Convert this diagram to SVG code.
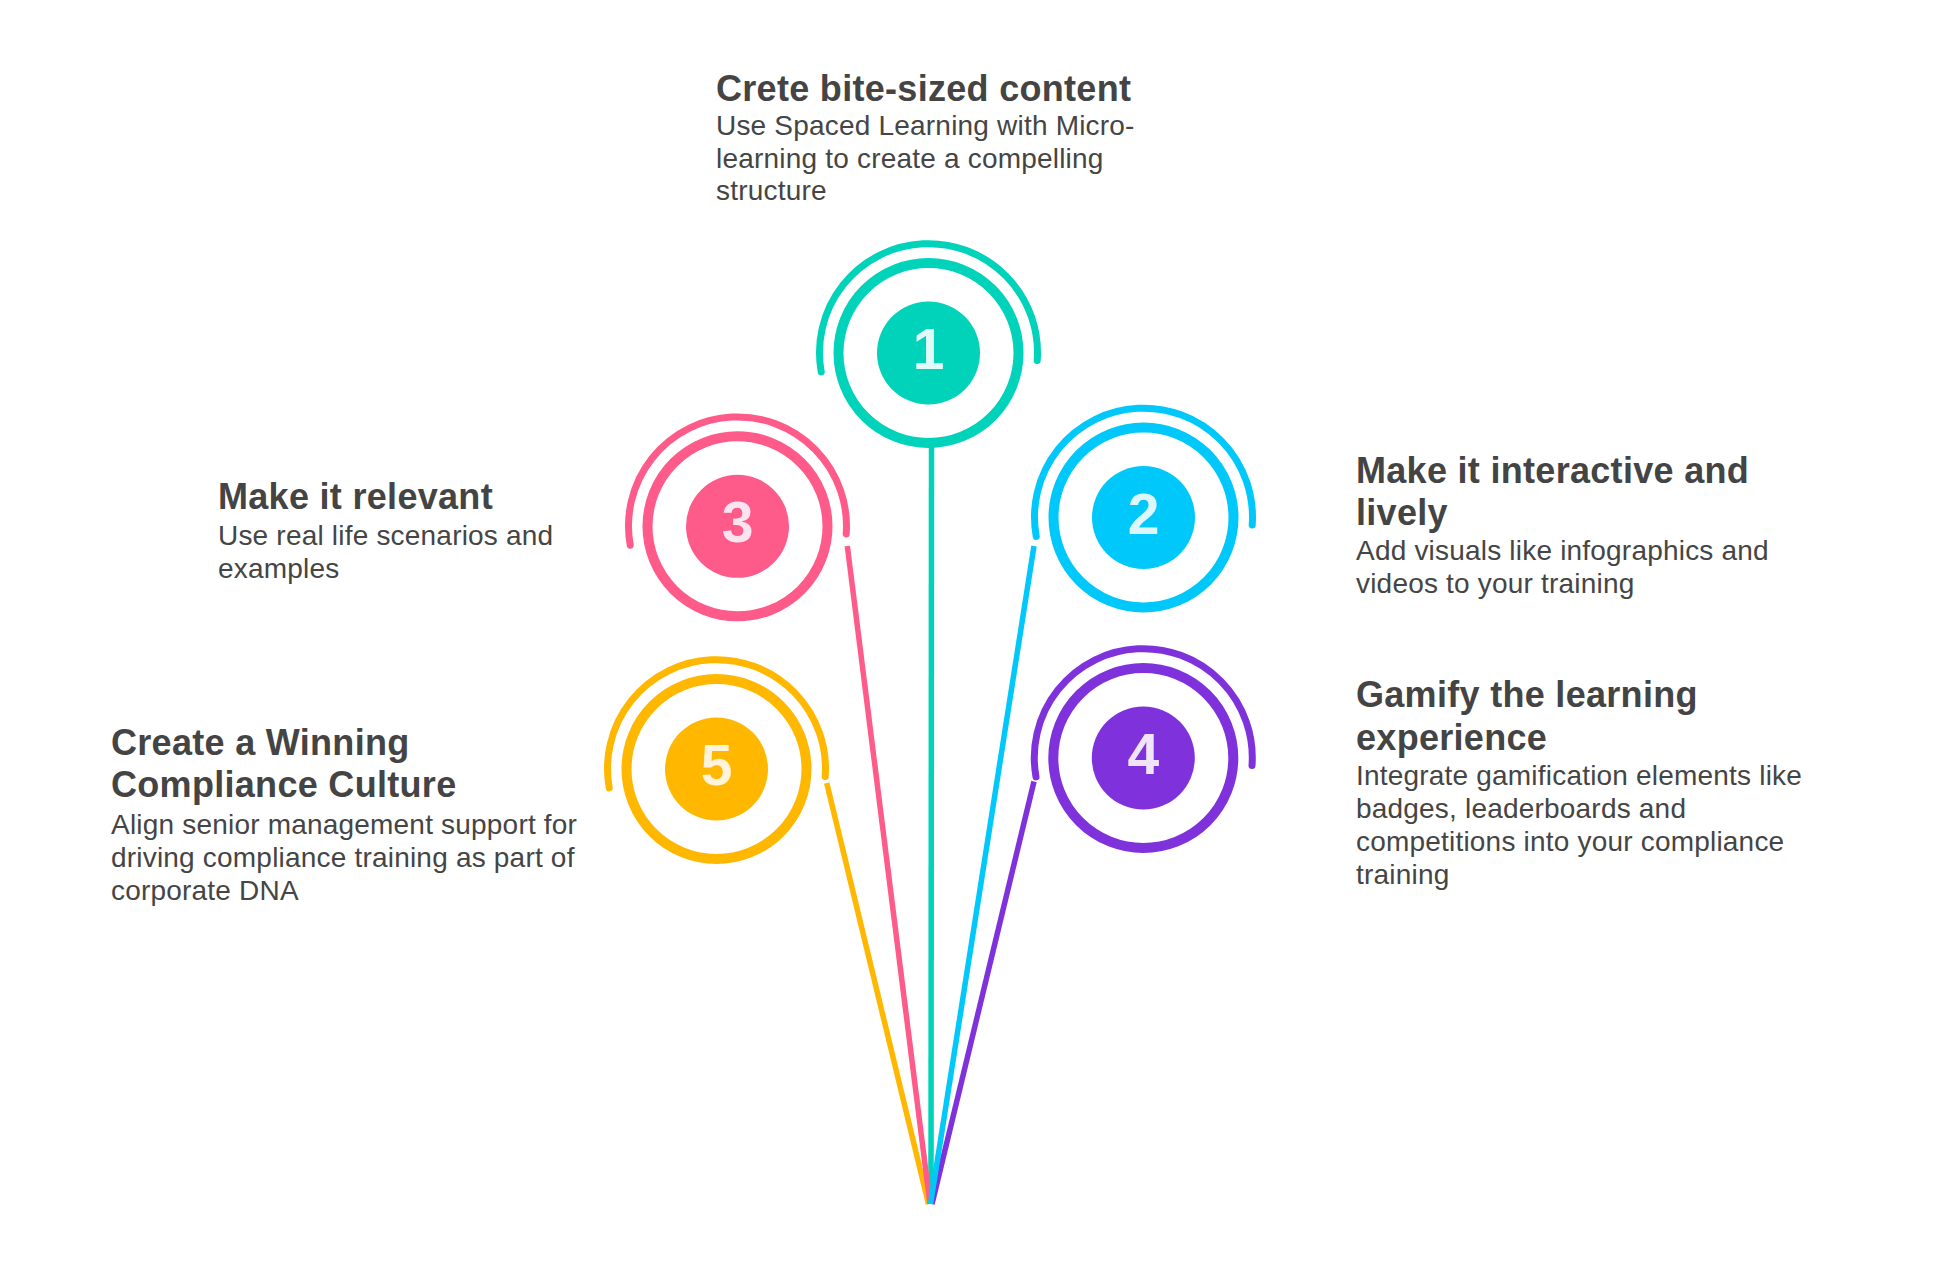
<svg xmlns="http://www.w3.org/2000/svg" width="1943" height="1278" viewBox="0 0 1943 1278">
<style>
.bg{fill:#ffffff}
.arc{fill:none;stroke-width:7;stroke-linecap:round}
.ring{fill:none;stroke-width:10}
.num{font-family:"Liberation Sans",Arial,sans-serif;font-weight:bold;font-size:57px;text-anchor:middle}
.title{font-family:"Liberation Sans",Arial,sans-serif;font-weight:bold;font-size:36px;fill:#444444;letter-spacing:0.3px}
.body{font-family:"Liberation Sans",Arial,sans-serif;font-size:28px;fill:#454545;letter-spacing:0.2px}
.conn line{stroke-width:5.5;fill:none}
.teal{stroke:#00D3B9}
.pink{stroke:#FF5B8A}
.blue{stroke:#00C8FA}
.orange{stroke:#FFB700}
.purple{stroke:#7F32DC}
</style>
<rect class="bg" x="0" y="0" width="1943" height="1278"/>
<g id="connectors" class="conn">
<line class="teal" x1="931.5" y1="446" x2="931" y2="1203"/>
<line class="orange" x1="826.7" y1="783" x2="928.5" y2="1204"/>
<line class="pink" x1="847.3" y1="546" x2="930" y2="1204"/>
<line class="purple" x1="1034" y1="781.5" x2="932" y2="1204"/>
<line class="blue" x1="1034" y1="546" x2="930.5" y2="1204"/>
</g>
<g id="node1">
<path class="arc teal" d="M 821.2 371.9 A 109 109 0 1 1 1037.2 360.6"/>
<circle class="ring teal" cx="928.5" cy="353" r="90"/>
<circle cx="928.5" cy="353" r="51.5" fill="#00D3B9"/>
<text class="num" x="928.5" y="369" fill="#E0FAF8">1</text>
<text class="title" x="716" y="101">Crete bite-sized content</text>
<text class="body" x="716" y="135">Use Spaced Learning with Micro-</text>
<text class="body" x="716" y="167.5">learning to create a compelling</text>
<text class="body" x="716" y="200">structure</text>
</g>
<g id="node2">
<path class="arc blue" d="M 1036.2 536.4 A 109 109 0 1 1 1252.2 525.1"/>
<circle class="ring blue" cx="1143.5" cy="517.5" r="90"/>
<circle cx="1143.5" cy="517.5" r="51.5" fill="#00C8FA"/>
<text class="num" x="1143.5" y="533.5" fill="#DDF6FC">2</text>
<text class="title" x="1356" y="483">Make it interactive and</text>
<text class="title" x="1356" y="525">lively</text>
<text class="body" x="1356" y="560">Add visuals like infographics and</text>
<text class="body" x="1356" y="593">videos to your training</text>
</g>
<g id="node3">
<path class="arc pink" d="M 630.2 545.2 A 109 109 0 1 1 846.2 533.9"/>
<circle class="ring pink" cx="737.5" cy="526.3" r="90"/>
<circle cx="737.5" cy="526.3" r="51.5" fill="#FF5B8A"/>
<text class="num" x="737.5" y="542.3" fill="#FAE4EF">3</text>
<text class="title" x="218" y="509">Make it relevant</text>
<text class="body" x="218" y="545">Use real life scenarios and</text>
<text class="body" x="218" y="578">examples</text>
</g>
<g id="node4">
<path class="arc purple" d="M 1036 776.9 A 109 109 0 1 1 1252 765.6"/>
<circle class="ring purple" cx="1143.3" cy="758" r="90"/>
<circle cx="1143.3" cy="758" r="51.5" fill="#7F32DC"/>
<text class="num" x="1143.3" y="774" fill="#EFE4F8">4</text>
<text class="title" x="1356" y="707">Gamify the learning</text>
<text class="title" x="1356" y="750">experience</text>
<text class="body" x="1356" y="785">Integrate gamification elements like</text>
<text class="body" x="1356" y="818">badges, leaderboards and</text>
<text class="body" x="1356" y="851">competitions into your compliance</text>
<text class="body" x="1356" y="884">training</text>
</g>
<g id="node5">
<path class="arc orange" d="M 609.2 787.9 A 109 109 0 1 1 825.2 776.6"/>
<circle class="ring orange" cx="716.5" cy="769" r="90"/>
<circle cx="716.5" cy="769" r="51.5" fill="#FFB700"/>
<text class="num" x="716.5" y="785" fill="#FFF3DC">5</text>
<text class="title" x="111" y="755">Create a Winning</text>
<text class="title" x="111" y="797">Compliance Culture</text>
<text class="body" x="111" y="834">Align senior management support for</text>
<text class="body" x="111" y="867">driving compliance training as part of</text>
<text class="body" x="111" y="900">corporate DNA</text>
</g>
</svg>
